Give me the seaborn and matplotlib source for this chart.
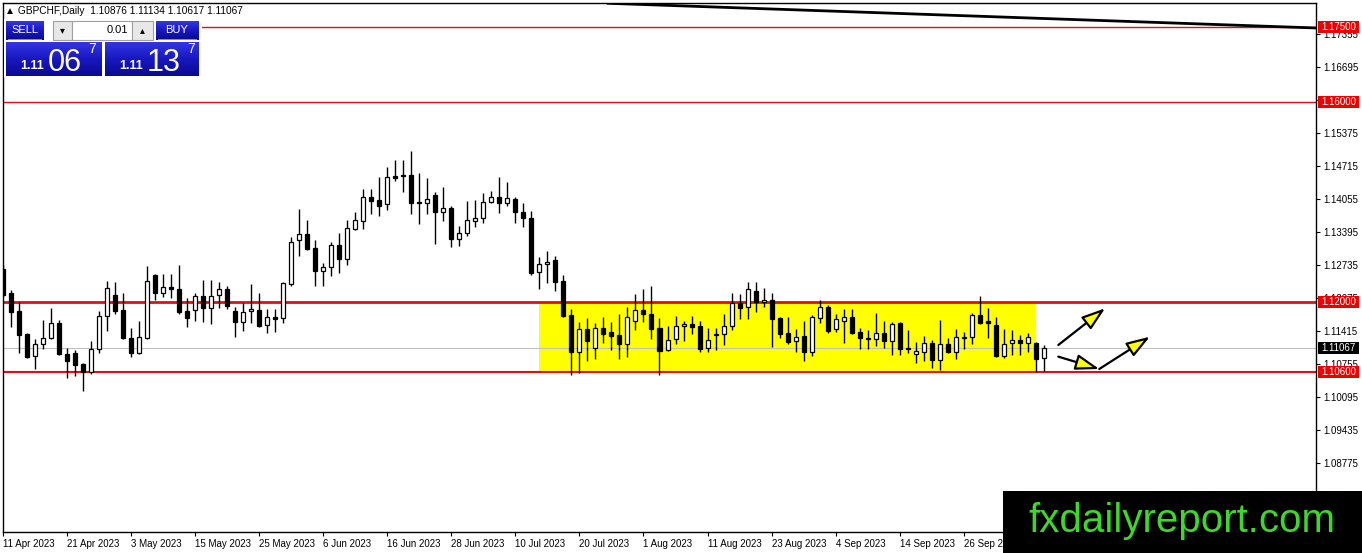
import numpy as np
import pandas as pd
import matplotlib
matplotlib.use("Agg")
import matplotlib.pyplot as plt
import seaborn as sns
from matplotlib.patches import Rectangle
from matplotlib.colors import LinearSegmentedColormap

sns.set_theme(style="white")
plt.rcParams["font.family"] = ["Liberation Sans", "DejaVu Sans"]

# === daily candles GBPCHF, 11 Apr 2023 .. 10 Oct 2023 ===
opens = [
    1.12655, 1.12175, 1.11815, 1.11355, 1.10915, 1.11155, 1.11275, 1.11575, 1.10955, 1.10975,
    1.10755, 1.10595, 1.11055, 1.11715, 1.12135, 1.11835, 1.11275, 1.10975, 1.11275, 1.12535,
    1.12175, 1.12295, 1.12255, 1.11815, 1.11835, 1.12115, 1.11875, 1.12135, 1.12255, 1.11815,
    1.11595, 1.11815, 1.11835, 1.11535, 1.11695, 1.11675, 1.12355, 1.13235, 1.13355, 1.13075,
    1.12615, 1.12695, 1.13135, 1.12855, 1.13455, 1.13615, 1.14095, 1.14035, 1.13955, 1.14515,
    1.14535, 1.14535, 1.13995, 1.13975, 1.14135, 1.13795, 1.13875, 1.13255, 1.13375, 1.13615,
    1.13675, 1.13995, 1.14095, 1.13975, 1.14055, 1.13795, 1.13675, 1.12595, 1.12755, 1.12835,
    1.12415, 1.11735, 1.10995, 1.11455, 1.11075, 1.11475, 1.11395, 1.11335, 1.11155, 1.11615,
    1.11835, 1.11755, 1.11475, 1.11035, 1.11255, 1.11515, 1.11555, 1.11515, 1.11075, 1.11335,
    1.11355, 1.11515, 1.11975, 1.11895, 1.12215, 1.11995, 1.12035, 1.11675, 1.11375, 1.11215,
    1.11315, 1.10995, 1.11675, 1.11895, 1.11455, 1.11615, 1.11695, 1.11395, 1.11275, 1.11255,
    1.11375, 1.11215, 1.11575, 1.11075, 1.10955, 1.10995, 1.11175, 1.10835, 1.11155, 1.10995,
    1.11275, 1.11295, 1.11735, 1.11615, 1.11535, 1.10915, 1.11175, 1.11235, 1.11175, 1.11175,
    1.10876]
highs = [
    1.12735, 1.12235, 1.11995, 1.11375, 1.11255, 1.11635, 1.11875, 1.11635, 1.11075, 1.11035,
    1.10775, 1.11215, 1.11815, 1.12415, 1.12395, 1.12175, 1.11475, 1.11615, 1.12715, 1.12555,
    1.12555, 1.12555, 1.12735, 1.12075, 1.12175, 1.12435, 1.12435, 1.12395, 1.12315, 1.11895,
    1.11975, 1.12355, 1.12175, 1.11855, 1.11855, 1.12395, 1.13295, 1.13855, 1.13635, 1.13235,
    1.12775, 1.13195, 1.13375, 1.13635, 1.13795, 1.14255, 1.14255, 1.14495, 1.14695, 1.14835,
    1.14835, 1.15015, 1.14575, 1.14475, 1.14195, 1.14295, 1.13915, 1.13515, 1.14015, 1.14035,
    1.14175, 1.14215, 1.14495, 1.14395, 1.14095, 1.13975, 1.13815, 1.12895, 1.13015, 1.12915,
    1.12535, 1.11855, 1.11595, 1.11675, 1.11575, 1.11695, 1.11595, 1.11755, 1.11895, 1.12155,
    1.12255, 1.12315, 1.11675, 1.11515, 1.11715, 1.11615, 1.11715, 1.11615, 1.11475, 1.11475,
    1.11755, 1.12175, 1.12155, 1.12395, 1.12395, 1.12275, 1.12175, 1.11695, 1.11695, 1.11455,
    1.11615, 1.11735, 1.12035, 1.11935, 1.11755, 1.11855, 1.11855, 1.11475, 1.11435, 1.11775,
    1.11615, 1.11595, 1.11595, 1.11435, 1.11195, 1.11315, 1.11235, 1.11635, 1.11275, 1.11455,
    1.11395, 1.11775, 1.12115, 1.11875, 1.11695, 1.11455, 1.11435, 1.11335, 1.11375, 1.11195,
    1.11134]
lows = [
    1.12095, 1.11495, 1.10975, 1.10875, 1.10655, 1.11055, 1.11255, 1.10935, 1.10475, 1.10515,
    1.10215, 1.10555, 1.10975, 1.11415, 1.11755, 1.11255, 1.10895, 1.10955, 1.11255, 1.12035,
    1.12095, 1.12075, 1.11755, 1.11495, 1.11615, 1.11595, 1.11555, 1.11875, 1.11855, 1.11295,
    1.11415, 1.11575, 1.11495, 1.11375, 1.11395, 1.11575, 1.12315, 1.12915, 1.13035, 1.12315,
    1.12315, 1.12515, 1.12575, 1.12735, 1.13435, 1.13455, 1.13755, 1.13715, 1.13835, 1.14415,
    1.14195, 1.13755, 1.13555, 1.13755, 1.13155, 1.13615, 1.13095, 1.13115, 1.13315, 1.13495,
    1.13575, 1.13975, 1.13775, 1.13915, 1.13575, 1.13495, 1.12535, 1.12255, 1.12375, 1.12215,
    1.11695, 1.10535, 1.10575, 1.10815, 1.10855, 1.11175, 1.11035, 1.10855, 1.10895, 1.11435,
    1.11595, 1.11255, 1.10535, 1.11015, 1.11155, 1.11215, 1.11355, 1.10995, 1.10995, 1.11035,
    1.11135, 1.11435, 1.11655, 1.11655, 1.11795, 1.11895, 1.11095, 1.11275, 1.11155, 1.10995,
    1.10815, 1.10915, 1.11575, 1.11375, 1.11395, 1.11175, 1.11355, 1.11055, 1.11055, 1.11115,
    1.11075, 1.10935, 1.10935, 1.10975, 1.10775, 1.10815, 1.10675, 1.10635, 1.10975, 1.10855,
    1.11055, 1.11155, 1.11555, 1.11275, 1.10895, 1.10875, 1.10935, 1.10935, 1.10995, 1.10595,
    1.10617]
closes = [
    1.12135, 1.11795, 1.11335, 1.10895, 1.11155, 1.11275, 1.11575, 1.10955, 1.10815, 1.10735,
    1.10595, 1.11055, 1.11715, 1.12275, 1.11815, 1.11275, 1.10975, 1.11295, 1.12415, 1.12175,
    1.12295, 1.12255, 1.11795, 1.11675, 1.12115, 1.11875, 1.12115, 1.12255, 1.11915, 1.11595,
    1.11795, 1.11855, 1.11515, 1.11695, 1.11655, 1.12375, 1.13195, 1.13355, 1.13055, 1.12615,
    1.12695, 1.13135, 1.12855, 1.13475, 1.13635, 1.14095, 1.14015, 1.13915, 1.14495, 1.14475,
    1.14515, 1.13975, 1.13975, 1.14055, 1.13795, 1.13875, 1.13255, 1.13375, 1.13635, 1.13675,
    1.13995, 1.14095, 1.13975, 1.14075, 1.13795, 1.13675, 1.12575, 1.12755, 1.12795, 1.12395,
    1.11715, 1.10995, 1.11455, 1.11215, 1.11475, 1.11355, 1.11315, 1.11155, 1.11695, 1.11835,
    1.11755, 1.11455, 1.11015, 1.11235, 1.11515, 1.11555, 1.11495, 1.11055, 1.11235, 1.11355,
    1.11515, 1.11975, 1.11875, 1.12255, 1.11995, 1.12035, 1.11655, 1.11355, 1.11195, 1.11295,
    1.10995, 1.11695, 1.11895, 1.11415, 1.11655, 1.11695, 1.11375, 1.11275, 1.11255, 1.11375,
    1.11215, 1.11555, 1.11055, 1.11055, 1.11015, 1.11175, 1.10835, 1.11155, 1.10995, 1.11295,
    1.11295, 1.11735, 1.11575, 1.11575, 1.10915, 1.11155, 1.11235, 1.11175, 1.11295, 1.10855,
    1.11067]
ask_price = 1.11137

# horizontal levels (red lines with price tags)
levels = [1.17500, 1.16000, 1.12000, 1.10600]
level_widths = [1.0, 1.0, 2.0, 1.5]
# range box (bar index from / to, price bottom / top)
box_bars = [67, 129]
box_prices = [1.10600, 1.12000]
# long trendline at the top
trend_bars = [75.4, 164.1]
trend_prices = [1.17970, 1.17475]
# drawn arrows: (tail bar, tail price, tip bar, tip price)
arrows = [
    (131.85, 1.11135, 137.7, 1.11869),
    (131.85, 1.10902, 136.97, 1.10655),
    (136.97, 1.10655, 143.3, 1.11301),
]
ytick_vals = [1.08775, 1.09435, 1.10095, 1.10755, 1.11415, 1.12075, 1.12735,
              1.13395, 1.14055, 1.14715, 1.15375, 1.16035, 1.16695, 1.17355]

bars = pd.DataFrame({"open": opens, "high": highs, "low": lows, "close": closes},
                    index=pd.bdate_range("2023-04-11", periods=len(closes)))
x = np.arange(len(bars))
up = (bars["close"] >= bars["open"]).values

W, H = 1362, 553
fig = plt.figure(figsize=(W / 100, H / 100), dpi=100)
fig.patch.set_facecolor("white")
ax = fig.add_axes([3 / W, 21 / H, 1313 / W, 529 / H])
ax.set_facecolor("white")


def px(xp, yp):
    # pixel of the picture -> figure fraction
    return xp / W, 1 - yp / H


# range box + levels
ax.add_patch(Rectangle((box_bars[0], box_prices[0]), box_bars[1] - box_bars[0],
                       box_prices[1] - box_prices[0], facecolor="#ffff00",
                       edgecolor="none", zorder=0.5))
for lv, lw in zip(levels, level_widths):
    ax.axhline(lv, color="#e01010", lw=lw, zorder=1)
ax.axhline(closes[-1], color="#c0c0c0", lw=0.8, zorder=1)
ax.plot(trend_bars, trend_prices, color="black", lw=2, zorder=2, solid_capstyle="butt")

# candles
ax.vlines(x, bars["low"], bars["high"], color="black", lw=1, zorder=3)
body = (bars["close"] - bars["open"]).values
ax.bar(x[up], np.maximum(body[up], 0.00004), bottom=bars["open"].values[up], width=0.5,
       facecolor="white", edgecolor="black", lw=0.9, zorder=4)
ax.bar(x[~up], np.maximum(-body[~up], 0.00004), bottom=bars["close"].values[~up], width=0.5,
       facecolor="black", edgecolor="black", lw=0.9, zorder=4)

for x0, y0, x1, y1 in arrows:
    ax.annotate("", xy=(x1, y1), xytext=(x0, y0),
                arrowprops=dict(arrowstyle="-|>,head_length=1.2,head_width=0.4",
                                fc="#ffff00", ec="black", lw=1.6, shrinkA=0, shrinkB=0),
                zorder=5)

ax.set_xlim(-0.06, 164.06)
ax.set_ylim(1.07395, 1.17975)

# axes look
for s in ax.spines.values():
    s.set_color("black")
    s.set_linewidth(1)
ax.yaxis.tick_right()
ax.set_yticks(ytick_vals)
ax.set_yticklabels([f"{v:.5f}" for v in ytick_vals])
ax.set_xticks(x[::8])
ax.set_xticklabels([f"{d.day} {d.strftime('%b %Y')}" for d in bars.index[::8]], ha="left")
ax.tick_params(axis="y", right=True, left=False, length=3, width=0.8, pad=2,
               labelsize=7, colors="black")
ax.tick_params(axis="x", bottom=True, length=3, width=0.8, pad=2, labelsize=7,
               colors="black")
ax.grid(False)

# price tags on the right scale
tag_h = 0.0024
for lv, col in [(l, "#ee0000") for l in levels] + [(closes[-1], "black")]:
    ax.add_patch(Rectangle((1 + 2 / 1313, lv - tag_h / 2), 41 / 1313, tag_h,
                           transform=ax.get_yaxis_transform(), facecolor=col,
                           edgecolor="none", clip_on=False, zorder=6))
    ax.text(1 + 22.5 / 1313, lv, f"{lv:.5f}", transform=ax.get_yaxis_transform(),
            ha="center", va="center", color="white", fontsize=7, zorder=7)

# header + trade panel
fig.text(*px(5, 11), f"▲ GBPCHF,Daily  {opens[-1]:.5f} {highs[-1]:.5f} "
         f"{lows[-1]:.5f} {closes[-1]:.5f}", fontsize=7.3, va="center", color="black")
fig.add_artist(Rectangle(px(4, 77), 198 / W, 58 / H, transform=fig.transFigure,
                         facecolor="white", edgecolor="none"))

blue_grad = LinearSegmentedColormap.from_list("mt4blue", ["#3434e4", "#1818c0", "#0a0a92"])


def blue_box(x0, y0, x1, y1):
    bax = fig.add_axes([x0 / W, 1 - y1 / H, (x1 - x0) / W, (y1 - y0) / H])
    bax.imshow(np.linspace(0, 1, 32).reshape(-1, 1), cmap=blue_grad, aspect="auto")
    bax.axis("off")
    bax.set_zorder(2)


blue_box(6, 21, 44, 40)
blue_box(156, 21, 199, 40)
for x0, x1 in [(8, 42), (158, 197)]:
    fig.add_artist(Rectangle(px(x0, 40), (x1 - x0) / W, 0.8 / H, transform=fig.transFigure,
                             facecolor="#8080ff", edgecolor="none", zorder=3))
fig.text(*px(25, 30), "SELL", color="white", fontsize=8, ha="center", va="center", zorder=4)
fig.text(*px(177, 30), "BUY", color="white", fontsize=8, ha="center", va="center", zorder=4)
for x0, x1, fc in [(53, 72, "#e8e8e8"), (72, 132, "white"), (132, 153, "#e8e8e8")]:
    fig.add_artist(Rectangle(px(x0, 40), (x1 - x0) / W, 19 / H, transform=fig.transFigure,
                             facecolor=fc, edgecolor="#a0a0a0", lw=0.8))
fig.text(*px(62, 30), "▾", fontsize=7, ha="center", va="center", color="black",
         family=["DejaVu Sans"])
fig.text(*px(142, 30), "▴", fontsize=7, ha="center", va="center", color="black",
         family=["DejaVu Sans"])
fig.text(*px(128, 30), "0.01", fontsize=8, ha="right", va="center", color="black")

for x0, x1, price in [(6, 101, closes[-1]), (105, 199, ask_price)]:
    blue_box(x0, 42, x1, 76)
    s = f"{price:.5f}"
    fig.text(*px(x0 + 14, 69), s[:4], fontsize=9, color="white", weight="bold",
             va="baseline", zorder=4)
    fig.text(*px(x0 + 42, 71), s[4:6], fontsize=22, color="white", va="baseline", zorder=4)
    fig.text(*px(x0 + 82, 53), s[6], fontsize=10, color="white", va="baseline", zorder=4)

# watermark
fig.add_artist(Rectangle(px(1003, 553), 359 / W, 62 / H, transform=fig.transFigure,
                         facecolor="black", edgecolor="none", zorder=10))
fig.text(*px(1182, 521), "fxdailyreport.com", fontsize=29, color="#3fd72a",
         ha="center", va="center", zorder=11)

fig.savefig("out.png", dpi=100)
